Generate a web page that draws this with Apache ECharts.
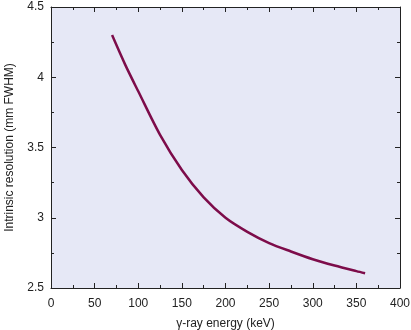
<!DOCTYPE html>
<html>
<head>
<meta charset="utf-8">
<script src="https://cdn.jsdelivr.net/npm/echarts@6/dist/echarts.min.js"></script>
<style>
  html, body { margin: 0; padding: 0; background: #ffffff; }
  #chart { width: 411px; height: 330px; }
</style>
</head>
<body>
<div id="chart"></div>
<script>
// Gamma-ray energy (keV) and intrinsic resolution (mm FWHM)
const energyKeV = [70, 85, 100, 125, 150, 175, 200, 225, 250, 275, 300, 325, 350, 360];
const resolutionMm = [4.30, 4.09, 3.90, 3.59, 3.34, 3.145, 3.00, 2.90, 2.82, 2.76, 2.705, 2.66, 2.62, 2.605];

const xTicks = { min: 0, max: 400, interval: 50 };
const yTicks = { min: 2.5, max: 4.5, interval: 0.5 };

const font = 'Liberation Sans, Arial, Helvetica, sans-serif';
const axisColor = '#222222';

function frameAxis(base, show) {
  return Object.assign({}, base, {
    axisLine: { show: true, onZero: false, lineStyle: { color: axisColor, width: 1 } },
    axisTick: { show: true, inside: true, length: 5, lineStyle: { color: axisColor } },
    minorTick: { show: true, splitNumber: 2, length: 3, lineStyle: { color: axisColor } },
    splitLine: { show: false },
    axisLabel: show ? base.axisLabel : { show: false }
  });
}

const chart = echarts.init(document.getElementById('chart'), null, { renderer: 'canvas' });
chart.setOption({
  animation: false,
  backgroundColor: '#ffffff',
  grid: {
    left: 51, right: 11, top: 7, bottom: 42,
    containLabel: false, outerBoundsMode: 'none',
    show: true, backgroundColor: '#e6e8f6', borderWidth: 0
  },
  xAxis: [
    frameAxis({
      type: 'value', position: 'bottom',
      min: xTicks.min, max: xTicks.max, interval: xTicks.interval,
      name: 'γ-ray energy (keV)', nameLocation: 'middle', nameGap: 30,
      nameTextStyle: { fontFamily: font, fontSize: 12, color: '#222' },
      axisLabel: { fontFamily: font, fontSize: 12, color: '#222', margin: 10 }
    }, true),
    frameAxis({
      type: 'value', position: 'top',
      min: xTicks.min, max: xTicks.max, interval: xTicks.interval
    }, false)
  ],
  yAxis: [
    frameAxis({
      type: 'value', position: 'left',
      min: yTicks.min, max: yTicks.max, interval: yTicks.interval,
      name: 'Intrinsic resolution (mm FWHM)', nameLocation: 'middle', nameGap: 35,
      nameRotate: 90,
      nameTextStyle: { fontFamily: font, fontSize: 12, color: '#222' },
      axisLabel: { fontFamily: font, fontSize: 12, color: '#222', margin: 7,
        formatter: v => String(v) }
    }, true),
    frameAxis({
      type: 'value', position: 'right',
      min: yTicks.min, max: yTicks.max, interval: yTicks.interval
    }, false)
  ],
  series: [{
    type: 'line',
    xAxisIndex: 0, yAxisIndex: 0,
    data: energyKeV.map((e, i) => [e, resolutionMm[i]]),
    smooth: 0.3,
    showSymbol: false,
    lineStyle: { color: '#7d0c4a', width: 2.5 }
  }]
});
</script>
</body>
</html>
